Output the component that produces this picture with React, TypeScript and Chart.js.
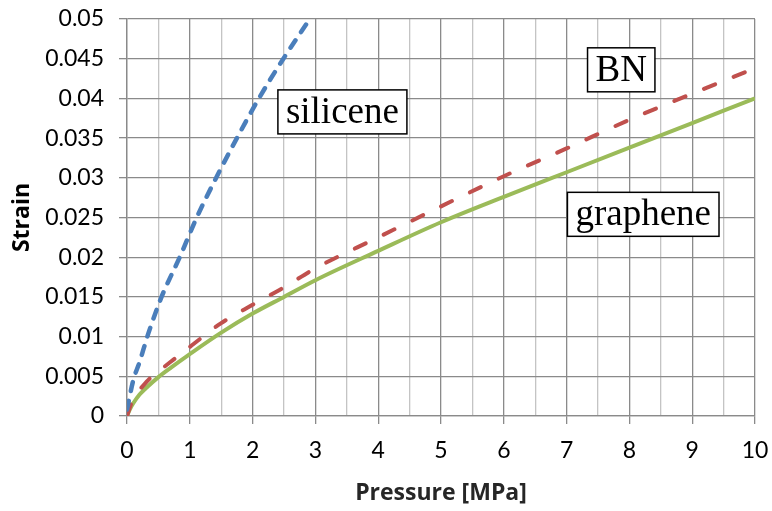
import React, { useEffect, useRef } from "react";
import { Chart, registerables } from "chart.js";

Chart.register(...registerables);

const siliceneP = [0, 0.1, 0.2, 0.34, 0.55, 0.84, 1.11, 1.42, 1.75, 2.1, 2.49, 2.91];
const siliceneS = [0.0008, 0.0045, 0.0068, 0.0104, 0.015, 0.02, 0.025, 0.03, 0.035, 0.04, 0.045, 0.05];

const bnP = [0, 0.07, 0.31, 0.5, 0.74, 1, 1.5, 2, 2.5, 3, 4, 5, 6, 7, 8, 9, 10];
const bnS = [0, 0.0016, 0.0043, 0.0056, 0.0071, 0.0087, 0.0117, 0.014, 0.0162, 0.0186, 0.0225, 0.0264, 0.0302, 0.0337, 0.0373, 0.0406, 0.0438];

const grapheneP = [0, 0.05, 0.1, 0.2, 0.3, 0.5, 0.7, 1, 1.5, 2, 2.5, 3, 4, 5, 6, 7, 8, 9, 10];
const grapheneS = [0, 0.0009, 0.0016, 0.0027, 0.0035, 0.0049, 0.0061, 0.0078, 0.0105, 0.0129, 0.015, 0.0171, 0.0208, 0.0244, 0.0276, 0.0307, 0.0338, 0.0369, 0.04];

const labelTexts = ["silicene", "BN", "graphene"];
const labelP = [3.43, 7.87, 8.22];
const labelS = [0.0383, 0.0436, 0.0254];

const toPts = (xs: number[], ys: number[]) => xs.map((x, i) => ({ x, y: ys[i] }));

const boxLabels = {
  id: "boxLabels",
  afterDatasetsDraw(chart: any) {
    const { ctx, scales } = chart;
    ctx.save();
    ctx.font = '37px "Liberation Serif"';
    ctx.textAlign = "center";
    ctx.textBaseline = "middle";
    labelTexts.forEach((t, i) => {
      const cx = scales.x.getPixelForValue(labelP[i]);
      const cy = scales.y.getPixelForValue(labelS[i]);
      const w = ctx.measureText(t).width + 16;
      const h = 44;
      ctx.fillStyle = "#ffffff";
      ctx.fillRect(cx - w / 2, cy - h / 2, w, h);
      ctx.strokeStyle = "#000000";
      ctx.lineWidth = 1.5;
      ctx.strokeRect(cx - w / 2, cy - h / 2, w, h);
      ctx.fillStyle = "#000000";
      ctx.fillText(t, cx, cy + 1);
    });
    ctx.restore();
  },
};

export default function App() {
  const ref = useRef<HTMLCanvasElement | null>(null);
  useEffect(() => {
    if (!ref.current) return;
    const major = "#8a8a8a";
    const minor = "#c4c4c4";
    const chart = new Chart(ref.current, {
      type: "scatter",
      data: {
        datasets: [
          {
            label: "silicene",
            data: toPts(siliceneP, siliceneS),
            showLine: true,
            borderColor: "#4a7ebb",
            borderWidth: 4.5,
            borderDash: [9, 10],
            borderCapStyle: "round",
            pointRadius: 0,
            cubicInterpolationMode: "monotone",
          },
          {
            label: "BN",
            data: toPts(bnP, bnS),
            showLine: true,
            borderColor: "#c0504d",
            borderWidth: 4,
            borderDash: [12, 20],
            borderCapStyle: "round",
            pointRadius: 0,
            cubicInterpolationMode: "monotone",
          },
          {
            label: "graphene",
            data: toPts(grapheneP, grapheneS),
            showLine: true,
            borderColor: "#9bbb59",
            borderWidth: 4,
            pointRadius: 0,
            cubicInterpolationMode: "monotone",
          },
        ],
      },
      options: {
        responsive: false,
        animation: false,
        layout: { padding: { top: 19, right: 17, left: 0, bottom: 0 } },
        plugins: { legend: { display: false }, tooltip: { enabled: false } },
        scales: {
          x: {
            type: "linear",
            min: 0,
            max: 10,
            afterFit: (s: any) => {
              s.height = 95;
              s.paddingLeft = 0;
              s.paddingRight = 0;
            },
            ticks: {
              stepSize: 0.5,
              autoSkip: false,
              maxRotation: 0,
              padding: 13,
              color: "#000",
              font: { family: "Lato", size: 23 },
              callback: (v: any) => (Number.isInteger(Number(v)) ? String(v) : ""),
            },
            grid: {
              color: (c: any) => (c.tick && Number.isInteger(c.tick.value) ? major : minor),
              tickColor: (c: any) => (c.tick && Number.isInteger(c.tick.value) ? major : "rgba(0,0,0,0)"),
              tickLength: 8,
              lineWidth: 1.3,
            },
            border: { color: major, width: 1.3 },
            title: {
              display: true,
              text: "Pressure [MPa]",
              color: "#262626",
              font: { family: "Open Sans", size: 23, weight: "bold" },
              padding: { top: 0, bottom: 4 },
            },
          },
          y: {
            min: 0,
            max: 0.05,
            afterFit: (s: any) => {
              s.width = 127;
              s.paddingTop = 0;
              s.paddingBottom = 0;
            },
            ticks: {
              stepSize: 0.005,
              padding: 15,
              color: "#000",
              font: { family: "Lato", size: 23 },
              callback: (v: any) => String(Number(Number(v).toFixed(3))),
            },
            grid: { color: major, tickColor: major, tickLength: 8, lineWidth: 1.3 },
            border: { color: major, width: 1.3 },
            title: {
              display: true,
              text: "Strain",
              color: "#000",
              font: { family: "Open Sans", size: 23, weight: "bold" },
              padding: { top: 9, bottom: 0 },
            },
          },
        },
      },
      plugins: [boxLabels],
    });
    return () => chart.destroy();
  }, []);
  return (
    <div style={{ position: "fixed", left: 0, top: 0, width: 772, height: 511, background: "#fff" }}>
      <canvas ref={ref} width={772} height={511} />
    </div>
  );
}
